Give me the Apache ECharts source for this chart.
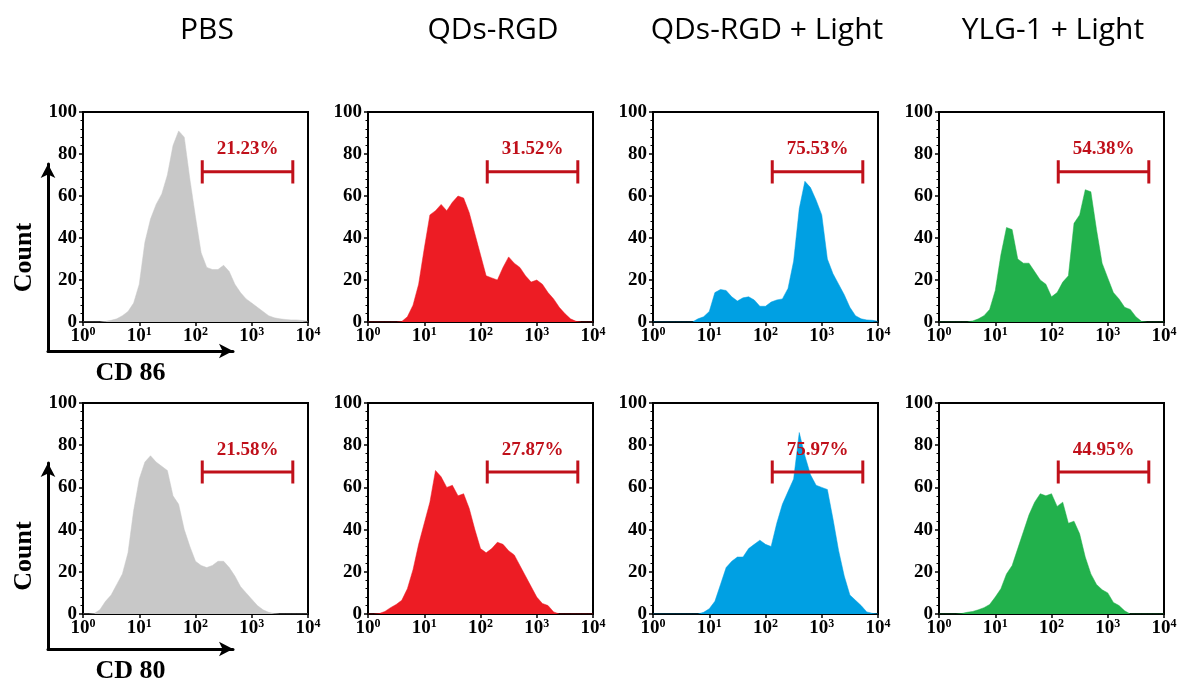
<!DOCTYPE html>
<html>
<head>
<meta charset="utf-8">
<script src="https://cdn.jsdelivr.net/npm/echarts@6/dist/echarts.min.js"></script>
<style>
html, body { margin: 0; padding: 0; background: #fff; }
#main { width: 1190px; height: 685px; }
</style>
</head>
<body>
<div id="main"></div>
<script>
// log10 of fluorescence intensity (10^0 .. 10^4), shared by all histograms
let logFL = [0, 0.1, 0.2, 0.3, 0.4, 0.5, 0.6, 0.7, 0.8, 0.9,
             1, 1.1, 1.2, 1.3, 1.4, 1.5, 1.6, 1.7, 1.8, 1.9,
             2, 2.1, 2.2, 2.3, 2.4, 2.5, 2.6, 2.7, 2.8, 2.9,
             3, 3.1, 3.2, 3.3, 3.4, 3.5, 3.6, 3.7, 3.8, 3.9, 4]

// CD 86 (top row), counts
let pbsCD86 = [0, 0, 0, 0, 0.3, 0.8, 1.5, 3, 5, 9, 18, 38, 49, 56, 61, 70, 84, 91, 88, 68,
               50, 33, 26, 25, 25, 27, 24, 18, 14, 11, 9, 7, 5, 3, 2, 1.5, 1.2, 1, 1, 0.7, 0.3]
let rgdCD86 = [0, 0, 0, 0, 0, 0, 0.2, 2.5, 8, 18, 35, 51, 53, 56, 53, 57, 60, 59, 52, 42,
               32, 22, 21, 20, 26, 31, 28, 26, 22, 19, 20, 18, 14, 11, 7, 4, 1.5, 0.3, 0, 0, 0]
let rgdLightCD86 = [0, 0, 0, 0, 0, 0, 0, 0, 1.5, 2.5, 5, 14, 15.5, 15, 12, 10, 11.5, 12, 10.5, 7.5,
                    7.5, 9.5, 10.5, 11, 16, 29, 54, 67, 64, 58, 51, 30, 23, 18, 13, 7, 3, 1.5, 1, 0.8, 0.3]
let ylgLightCD86 = [0, 0, 0, 0, 0, 0, 0.5, 1.5, 3, 6, 15, 32, 45, 44, 30, 28, 28, 24, 20, 18,
                    12, 14, 19, 22, 47, 51, 63, 62, 44, 28, 21, 14, 11, 7, 6, 2.5, 0.3, 0, 0, 0, 0]

// CD 80 (bottom row), counts
let pbsCD80 = [0, 0, 0.2, 2, 6, 9, 14, 19, 29, 49, 64, 72, 75, 72, 70, 68, 56, 52, 40, 32,
               25, 23, 22, 23, 25, 25, 22, 18, 13, 10, 7, 4, 2, 0.8, 0.2, 0, 0, 0, 0, 0, 0]
let rgdCD80 = [0, 0, 0.2, 1.2, 3, 4.5, 6.5, 12, 21, 33, 43, 53, 68, 65, 60, 61, 56, 57, 50, 40,
               31, 29, 31, 34, 33, 30, 28, 23, 18, 13, 8, 5, 4, 1, 0, 0, 0, 0, 0, 0, 0]
let rgdLightCD80 = [0, 0, 0, 0, 0, 0, 0, 0, 0, 0.8, 2.5, 6, 14, 22, 25, 27, 27, 31, 33, 35,
                    33, 32, 43, 52, 58, 64, 86, 75, 66, 61, 60, 59, 45, 30, 18, 9, 6.5, 4, 1, 0.3, 0]
let ylgLightCD80 = [0, 0, 0, 0, 0.2, 0.8, 1.2, 2, 3, 4.5, 8, 12, 19, 23, 31, 39, 47, 53, 57, 56,
                    57, 51, 53, 43, 44, 38, 27, 19, 14, 11.5, 10, 5.5, 4, 1.5, 0, 0, 0, 0, 0, 0, 0]

let groups = ['PBS', 'QDs-RGD', 'QDs-RGD + Light', 'YLG-1 + Light']
let cd86Pct = ['21.23%', '31.52%', '75.53%', '54.38%']
let cd80Pct = ['21.58%', '27.87%', '75.97%', '44.95%']
// positive gate, in log10 units
let gateFrom = 2.12
let gateTo = 3.73

let fillColors = ['#c8c8c8', '#ed1c24', '#00a0e3', '#22b14c']
let gateColor = '#c0101a'
let serif = '"Liberation Serif", "Times New Roman", serif'

let rows = [
    { data: [pbsCD86, rgdCD86, rgdLightCD86, ylgLightCD86], pct: cd86Pct, top: 112, h: 210, gateY: 71.5, labelY: 82.5, marker: 'CD 86', arrowTop: 164, arrowBottom: 351 },
    { data: [pbsCD80, rgdCD80, rgdLightCD80, ylgLightCD80], pct: cd80Pct, top: 403, h: 211, gateY: 67.3, labelY: 77.7, marker: 'CD 80', arrowTop: 463, arrowBottom: 653 },
]
let colLeft = [83, 368, 653, 939]
let colWidth = 225

let grid = [], xAxis = [], yAxis = [], series = []

rows.forEach((row, r) => {
    row.data.forEach((vals, c) => {
        let idx = grid.length
        grid.push({
            left: colLeft[c], top: row.top, width: colWidth, height: row.h,
            show: true, borderColor: '#000', borderWidth: 2, backgroundColor: 'transparent',
        })
        xAxis.push({
            gridIndex: idx, type: 'value', min: 0, max: 4, interval: 1,
            axisLine: { show: true, onZero: false, lineStyle: { color: '#000', width: 2 } },
            axisTick: { show: true, length: 4, lineStyle: { color: '#000', width: 1.5 } },
            splitLine: { show: false },
            axisLabel: {
                margin: 4,
                formatter: v => '{b|10}{s|' + v + '}',
                rich: {
                    b: { fontFamily: serif, fontWeight: 'bold', fontSize: 19, color: '#000' },
                    s: { fontFamily: serif, fontWeight: 'bold', fontSize: 12, color: '#000', verticalAlign: 'bottom', padding: [0, 0, 9, 0] },
                },
            },
        })
        yAxis.push({
            gridIndex: idx, type: 'value', min: 0, max: 100, interval: 20,
            axisLine: { show: true, lineStyle: { color: '#000', width: 2 } },
            axisTick: { show: true, length: 4, lineStyle: { color: '#000', width: 1.5 } },
            minorTick: { show: true, splitNumber: 5, length: 2.5, lineStyle: { color: '#000', width: 1 } },
            splitLine: { show: false },
            axisLabel: { margin: 6, fontFamily: serif, fontWeight: 'bold', fontSize: 19, color: '#000' },
        })
        // histogram
        series.push({
            type: 'line', xAxisIndex: idx, yAxisIndex: idx,
            data: logFL.map((e, i) => [e, vals[i]]),
            symbol: 'none', smooth: false,
            lineStyle: { width: 0.5, color: fillColors[c] },
            areaStyle: { color: fillColors[c], opacity: 1 },
            silent: true, z: 2,
        })
        // gate bracket
        let cap = 5.5
        series.push({
            type: 'line', xAxisIndex: idx, yAxisIndex: idx,
            data: [[gateFrom, row.gateY - cap], [gateFrom, row.gateY + cap], [gateFrom, row.gateY],
                   [gateTo, row.gateY], [gateTo, row.gateY + cap], [gateTo, row.gateY - cap]],
            symbol: 'none', lineStyle: { color: gateColor, width: 3 }, silent: true, z: 3,
        })
        // gate percentage
        series.push({
            type: 'scatter', xAxisIndex: idx, yAxisIndex: idx,
            data: [[(gateFrom + gateTo) / 2, row.labelY]],
            symbolSize: 0, itemStyle: { color: 'rgba(0,0,0,0)' }, silent: true, z: 4,
            label: {
                show: true, position: 'inside', formatter: row.pct[c], opacity: 1,
                textBorderWidth: 0, textShadowBlur: 0,
                fontFamily: serif, fontWeight: 'bold', fontSize: 19, color: gateColor,
            },
        })
    })
})

// the big axis arrows with "Count" / "CD xx" beside the first column
rows.forEach(row => {
    let idx = grid.length
    grid.push({ left: 48, top: row.arrowTop, width: 185, height: row.arrowBottom - row.arrowTop, show: false })
    xAxis.push({
        gridIndex: idx, type: 'value', min: 0, max: 1,
        axisLine: { show: true, onZero: false, symbol: ['none', 'arrow'], symbolSize: [11, 14], lineStyle: { color: '#000', width: 3 } },
        axisTick: { show: false }, axisLabel: { show: false }, splitLine: { show: false },
        name: row.marker, nameLocation: 'middle', nameGap: 9,
        nameTextStyle: { fontFamily: serif, fontWeight: 'bold', fontSize: 26, color: '#000', padding: [0, 20, 0, 0], verticalAlign: 'top' },
    })
    yAxis.push({
        gridIndex: idx, type: 'value', min: 0, max: 1,
        axisLine: { show: true, onZero: false, symbol: ['none', 'arrow'], symbolSize: [11, 14], lineStyle: { color: '#000', width: 3 } },
        axisTick: { show: false }, axisLabel: { show: false }, splitLine: { show: false },
        name: 'Count', nameLocation: 'middle', nameGap: 11,
        nameTextStyle: { fontFamily: serif, fontWeight: 'bold', fontSize: 26, color: '#000' },
    })
})

let titleCenters = [202, 488, 762, 1048]
let title = groups.map((g, i) => ({
    text: g, left: titleCenters[i], top: 10, textAlign: 'center',
    textStyle: { fontFamily: '"Open Sans", "Noto Sans", sans-serif', fontWeight: 'normal', fontSize: 30, color: '#000' },
}))

let chart = echarts.init(document.getElementById('main'))
chart.setOption({
    animation: false,
    backgroundColor: '#fff',
    title: title,
    grid: grid,
    xAxis: xAxis,
    yAxis: yAxis,
    series: series,
})
</script>
</body>
</html>
